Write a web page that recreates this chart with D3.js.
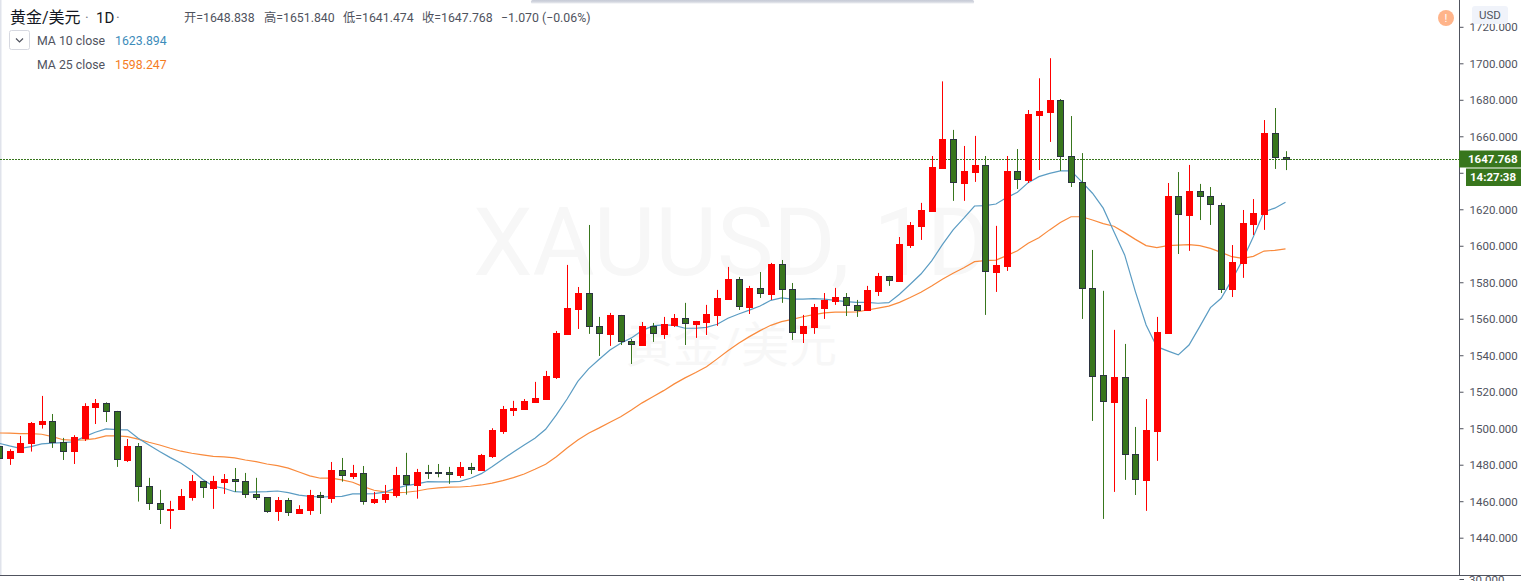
<!DOCTYPE html>
<html><head><meta charset="utf-8">
<style>
html,body{margin:0;padding:0;background:#fff;overflow:hidden}
svg{display:block}
text{font-family:Roboto,"Noto Sans CJK SC",sans-serif}
</style>
<script src="https://cdn.jsdelivr.net/npm/d3@7"></script>
</head><body>
<script>
// Candles from index -1 (partly off-screen) to 119
const opens=[1490.3,1483.7,1487.2,1491.6,1502.3,1503.8,1492.3,1487.2,1494.8,1511.8,1513.7,1509.3,1482.6,1490.1,1468.2,1458.9,1455.4,1455.4,1462.5,1470.9,1467.4,1470.7,1472.0,1470.9,1463.8,1462.2,1454.3,1460.5,1453.7,1455.4,1463.3,1462.0,1477.0,1474.0,1475.3,1459.8,1461.1,1463.6,1474.2,1468.9,1475.8,1475.9,1475.9,1474.4,1478.6,1477.1,1484.8,1498.7,1510.0,1510.6,1514.4,1516.0,1528.1,1551.7,1565.4,1574.0,1555.9,1551.7,1561.9,1547.7,1545.6,1555.9,1551.7,1556.4,1560.3,1557.1,1558.2,1562.1,1570.8,1581.6,1566.5,1576.7,1573.6,1590.0,1576.2,1552.2,1555.5,1565.9,1569.8,1571.8,1567.4,1564.8,1575.2,1583.3,1580.9,1600.4,1610.9,1619.1,1642.6,1658.3,1634.4,1640.4,1644.1,1585.7,1588.9,1640.8,1636.1,1671.7,1673.3,1679.7,1649.0,1634.8,1576.8,1529.0,1514.4,1527.9,1485.7,1471.7,1498.5,1552.2,1627.1,1616.9,1629.9,1627.1,1622.5,1576.3,1590.6,1611.9,1617.4,1661.6,1648.838];
const highs=[1491.9,1488.5,1495.8,1503.4,1517.7,1507.8,1494.7,1496.2,1513.7,1516.0,1514.2,1509.5,1494.1,1491.9,1472.8,1466.2,1460.2,1466.7,1474.4,1471.1,1473.9,1474.9,1478.2,1475.5,1472.8,1462.2,1462.3,1461.8,1457.8,1466.2,1465.1,1481.5,1483.7,1479.9,1479.3,1465.1,1468.9,1478.8,1486.5,1477.7,1479.9,1480.4,1478.8,1481.5,1481.0,1485.9,1500.0,1512.2,1515.0,1516.0,1525.4,1531.4,1553.3,1589.5,1577.4,1611.4,1561.0,1563.2,1562.1,1548.9,1558.2,1557.7,1561.0,1562.6,1568.7,1558.8,1567.6,1575.8,1588.4,1582.9,1578.0,1585.6,1590.6,1592.2,1579.6,1562.1,1568.1,1574.1,1576.9,1574.1,1570.3,1578.0,1585.1,1583.5,1604.8,1613.0,1623.5,1649.2,1690.1,1663.5,1654.7,1660.2,1649.2,1610.9,1649.2,1653.0,1674.4,1691.8,1702.8,1680.4,1671.1,1650.8,1597.7,1575.3,1553.9,1546.2,1500.7,1516.0,1561.0,1634.4,1640.4,1644.3,1633.9,1632.2,1623.5,1600.4,1619.6,1625.6,1668.9,1675.5,1651.84];
const lows=[1482.6,1479.9,1487.2,1487.2,1499.8,1489.2,1482.6,1480.4,1493.0,1502.3,1503.4,1478.8,1481.5,1459.8,1455.2,1447.5,1444.8,1455.4,1460.3,1461.8,1455.8,1464.0,1465.1,1461.8,1460.7,1453.6,1449.2,1451.9,1453.7,1452.5,1453.0,1459.1,1470.7,1472.2,1458.1,1458.5,1459.1,1462.0,1463.6,1461.4,1472.2,1473.1,1469.5,1472.8,1474.9,1476.6,1483.7,1496.9,1506.7,1510.0,1513.9,1516.0,1527.0,1551.7,1554.4,1551.7,1539.6,1545.1,1545.6,1535.2,1545.1,1547.3,1548.9,1555.5,1545.6,1549.5,1551.1,1556.1,1570.8,1564.8,1562.6,1571.4,1570.3,1568.7,1548.4,1546.7,1551.7,1559.9,1567.6,1561.5,1561.0,1564.8,1572.5,1578.0,1580.9,1598.8,1603.2,1618.5,1642.6,1624.6,1624.6,1635.0,1562.1,1574.7,1586.2,1631.1,1634.4,1641.5,1656.9,1641.0,1632.2,1559.9,1504.0,1450.3,1465.1,1471.7,1463.4,1454.7,1482.1,1552.2,1595.5,1597.2,1614.1,1611.4,1574.1,1571.9,1582.4,1605.9,1608.7,1642.1,1641.474];
const closes=[1483.9,1487.6,1491.9,1502.7,1504.0,1492.3,1487.4,1495.1,1512.2,1513.9,1509.3,1483.0,1490.3,1468.2,1458.9,1455.4,1455.8,1462.7,1471.1,1467.4,1471.1,1472.2,1470.7,1463.8,1462.2,1454.5,1460.5,1454.0,1455.8,1463.4,1462.0,1477.1,1474.2,1475.5,1460.0,1461.2,1463.8,1474.4,1469.1,1476.0,1475.5,1475.7,1474.6,1478.8,1477.3,1485.4,1499.1,1510.6,1511.1,1515.0,1516.6,1528.7,1552.2,1565.9,1574.1,1555.7,1551.8,1562.1,1547.4,1545.8,1556.1,1551.8,1557.1,1560.4,1557.3,1558.8,1562.6,1571.4,1581.8,1566.6,1576.9,1573.8,1590.0,1576.2,1552.6,1556.1,1566.5,1570.3,1571.9,1567.2,1564.8,1575.8,1583.5,1580.9,1601.0,1611.4,1619.6,1643.2,1658.5,1634.8,1641.0,1644.3,1586.2,1589.5,1641.0,1636.4,1672.2,1673.9,1679.9,1648.9,1634.8,1576.6,1528.8,1514.8,1528.1,1485.5,1471.8,1499.1,1552.8,1627.3,1617.0,1630.0,1626.9,1622.8,1576.7,1591.1,1612.5,1618.0,1661.8,1648.3,1647.768];
const ma10=[1491.8,1490.3,1489.0,1489.9,1491.4,1491.8,1492.1,1492.5,1495.4,1497.8,1499.6,1499.2,1499.1,1494.5,1490.8,1487.2,1483.9,1480.8,1476.8,1472.0,1468.2,1467.1,1465.2,1464.9,1465.1,1465.2,1465.6,1464.7,1463.3,1462.7,1462.3,1462.5,1462.7,1464.0,1464.0,1464.2,1465.0,1467.0,1468.5,1469.5,1470.7,1470.6,1470.6,1470.9,1472.6,1475.1,1478.9,1483.0,1487.0,1490.8,1494.5,1499.4,1507.3,1516.0,1525.7,1532.5,1537.8,1542.9,1546.6,1549.5,1553.5,1556.1,1556.6,1556.4,1554.8,1554.8,1555.3,1557.0,1560.3,1562.6,1564.7,1567.0,1570.1,1571.4,1570.8,1570.7,1571.0,1570.7,1570.1,1569.4,1569.0,1569.0,1568.5,1568.8,1573.4,1578.9,1584.5,1591.7,1600.6,1608.7,1615.1,1621.8,1622.0,1622.9,1626.4,1629.3,1634.6,1637.9,1639.7,1641.0,1641.0,1635.0,1628.8,1620.6,1607.7,1595.0,1574.9,1556.6,1544.7,1542.4,1540.2,1545.6,1555.7,1566.1,1571.2,1581.3,1592.2,1605.0,1618.7,1620.6,1623.894];
const ma25=[1497.4,1497.3,1497.0,1497.0,1496.7,1495.4,1493.7,1493.4,1493.6,1494.3,1495.8,1495.8,1495.4,1494.0,1492.3,1490.8,1489.0,1487.4,1486.3,1485.4,1484.6,1484.3,1483.7,1482.6,1481.7,1480.4,1479.5,1478.1,1476.0,1473.9,1472.6,1472.6,1471.7,1470.4,1468.0,1466.0,1465.1,1464.6,1464.9,1465.6,1466.7,1467.3,1467.7,1467.8,1468.2,1468.9,1469.9,1471.3,1472.9,1474.9,1477.5,1480.3,1484.4,1489.2,1493.6,1497.3,1500.2,1503.3,1506.3,1510.0,1513.9,1517.3,1520.6,1524.3,1527.6,1530.5,1533.7,1538.0,1542.5,1546.6,1550.2,1553.5,1556.4,1558.4,1559.7,1561.1,1562.3,1563.2,1563.6,1563.6,1563.7,1564.8,1565.8,1566.9,1569.0,1571.6,1574.5,1578.0,1581.7,1584.9,1588.0,1591.3,1591.8,1592.1,1594.6,1597.3,1601.4,1604.4,1608.7,1612.7,1615.9,1615.9,1614.1,1612.1,1610.7,1607.2,1603.5,1600.1,1599.0,1600.1,1600.3,1600.6,1600.1,1598.6,1596.4,1594.0,1593.1,1594.2,1597.1,1597.5,1598.247];
const priceTicks=[1720,1700,1680,1660,1640,1620,1600,1580,1560,1540,1520,1500,1480,1460,1440];
const hiddenTick=1640;
const lastPrice=1647.768;
const titleParts=["黄金/美元","·","1D","·"];
const ohlcLabels=["开=1648.838","高=1651.840","低=1641.474","收=1647.768","−1.070 (−0.06%)"];
const legendNames=["MA 10 close","MA 25 close"];
const legendValues=["1623.894","1598.247"];
const countdown="14:27:38";
const watermark=["XAUUSD, 1D","黄金/美元"];

const W=1521,H=581,axisX=1459;
const C={up:"#ff0000",down:"#38761d",border:"#2b3340",ma10:"#5b9cc3",ma25:"#f98a3c",axis:"#50535e",text:"#50535e"};
const svg=d3.select("body").append("svg").attr("width",W).attr("height",H);
const x=d3.scaleLinear().domain([0,119]).range([9.5,1285.5]);
const y=d3.scaleLinear().domain([1440,1700]).range([537.7,63.3]);
const idx=d3.range(-1,120);

// left edge and toolbar shadow
svg.append("rect").attr("x",0).attr("y",0).attr("width",1.5).attr("height",575).attr("fill","#e0e3eb");
const grad=svg.append("defs").append("linearGradient").attr("id","sh").attr("x1",0).attr("x2",0).attr("y1",0).attr("y2",1);
grad.append("stop").attr("offset",0).attr("stop-color","#c6cad6");
grad.append("stop").attr("offset",0.5).attr("stop-color","#d4d7e0");
grad.append("stop").attr("offset",1).attr("stop-color","#ffffff");
svg.append("rect").attr("x",531).attr("y",0).attr("width",443).attr("height",4).attr("rx",1.5).attr("fill","url(#sh)");

// watermark
svg.append("text").attr("x",731).attr("y",275).attr("text-anchor","middle").attr("font-size",95).attr("fill","#f7f7f7").text(watermark[0]);
svg.append("text").attr("x",731).attr("y",362).attr("text-anchor","middle").attr("font-size",48).attr("fill","#f7f7f7").text(watermark[1]);

// price line
svg.append("line").attr("x1",0).attr("x2",axisX).attr("y1",Math.round(y(lastPrice))+.5).attr("y2",Math.round(y(lastPrice))+.5)
  .attr("stroke",C.down).attr("stroke-width",1).attr("stroke-dasharray","2 1");

// moving averages
const line=d3.line().x(d=>x(d)).curve(d3.curveLinear);
[[ma25,C.ma25],[ma10,C.ma10]].forEach(([s,c])=>{
  svg.append("path").attr("fill","none").attr("stroke",c).attr("stroke-width",1.2)
    .attr("d",line.y(d=>y(s[d+1]))(idx));
});

// candles
const g=svg.selectAll("g.c").data(idx).join("g").attr("class","c");
const isUp=d=>closes[d+1]>=opens[d+1];
g.append("line").attr("x1",d=>Math.round(x(d))+.5).attr("x2",d=>Math.round(x(d))+.5)
  .attr("y1",d=>y(highs[d+1])).attr("y2",d=>y(lows[d+1]))
  .attr("stroke",d=>isUp(d)?C.up:C.down).attr("stroke-width",1);
g.append("rect")
  .attr("x",d=>Math.round(x(d))-2.5).attr("width",6)
  .attr("y",d=>Math.round(y(Math.max(opens[d+1],closes[d+1])))+.5)
  .attr("height",d=>Math.max(Math.round(Math.abs(y(opens[d+1])-y(closes[d+1]))),1))
  .attr("fill",d=>isUp(d)?C.up:C.down)
  .attr("stroke",d=>isUp(d)?C.up:C.border).attr("stroke-width",1);

// axis
svg.append("rect").attr("x",axisX+.5).attr("y",0).attr("width",W-axisX).attr("height",H).attr("fill","#fff");
const axis=d3.axisRight(y).tickValues(priceTicks).tickFormat(d=>d===hiddenTick?"":d3.format(".3f")(d)).tickSize(4).tickPadding(6);
const ag=svg.append("g").attr("transform",`translate(${axisX+.5},0)`).call(axis);
ag.select(".domain").attr("stroke",C.axis).attr("d",`M0,0V${575}`);
ag.selectAll(".tick line").attr("stroke",C.axis);
ag.selectAll(".tick text").attr("fill",C.text).attr("font-size",11.5).attr("y",0.25);
// bottom pane separator and next pane's label
svg.append("line").attr("x1",0).attr("x2",W).attr("y1",575.5).attr("y2",575.5).attr("stroke",C.axis);
svg.append("line").attr("x1",axisX+.5).attr("x2",axisX+5).attr("y1",579.5).attr("y2",579.5).attr("stroke",C.axis);
svg.append("text").attr("x",1469).attr("y",584).attr("fill",C.text).attr("font-size",11.5).text("30.000");

// last-price labels
svg.append("rect").attr("x",axisX).attr("y",150.5).attr("width",W-axisX).attr("height",17).attr("fill",C.down);
svg.append("text").attr("x",1468).attr("y",163).attr("fill","#fff").attr("font-size",11.5).attr("font-weight",700).text(d3.format(".3f")(lastPrice));
svg.append("rect").attr("x",1466).attr("y",168.5).attr("width",W-1466).attr("height",17.5).attr("fill",C.down);
svg.append("text").attr("x",1470).attr("y",181).attr("fill","#fff").attr("font-size",11.5).attr("font-weight",700).text(countdown);

// USD button and alert dot
svg.append("rect").attr("x",1472).attr("y",6).attr("width",36).attr("height",18).attr("rx",3).attr("fill","#f0f3fa");
svg.append("text").attr("x",1490).attr("y",19).attr("text-anchor","middle").attr("fill","#50535e").attr("font-size",11.5).text("USD");
svg.append("circle").attr("cx",1446).attr("cy",18).attr("r",8).attr("fill","#ffb48a");
svg.append("text").attr("x",1446).attr("y",22).attr("text-anchor","middle").attr("fill","#fff").attr("font-size",11).text("!");

// header
const title=svg.append("text").attr("y",23).attr("fill","#131722");
[[10,16,"#131722"],[85,14,"#787b86"],[96,15,"#131722"],[116,14,"#787b86"]].forEach(([px,fs,col],i)=>{
  title.append("tspan").attr("x",px).attr("font-size",fs).attr("fill",col).text(titleParts[i]);
});
[184,264,343,422,501].forEach((px,i)=>{
  svg.append("text").attr("x",px).attr("y",22).attr("fill","#50535e").attr("font-size",12.3).text(ohlcLabels[i]);
});
svg.append("rect").attr("x",9.5).attr("y",30.5).attr("width",20).attr("height",19).attr("rx",2).attr("fill","#fff").attr("stroke","#d6d8e0");
svg.append("path").attr("d","M16,38.5L19.5,42L23,38.5").attr("fill","none").attr("stroke","#50535e").attr("stroke-width",1.2);
legendNames.forEach((t,i)=>{
  const yy=45+i*23.5;
  svg.append("text").attr("x",37).attr("y",yy).attr("fill","#50535e").attr("font-size",12.3).text(t);
  svg.append("text").attr("x",115).attr("y",yy).attr("fill",i?"#f57c1f":"#3d8bba").attr("font-size",12.3).text(legendValues[i]);
});
</script>
</body></html>
